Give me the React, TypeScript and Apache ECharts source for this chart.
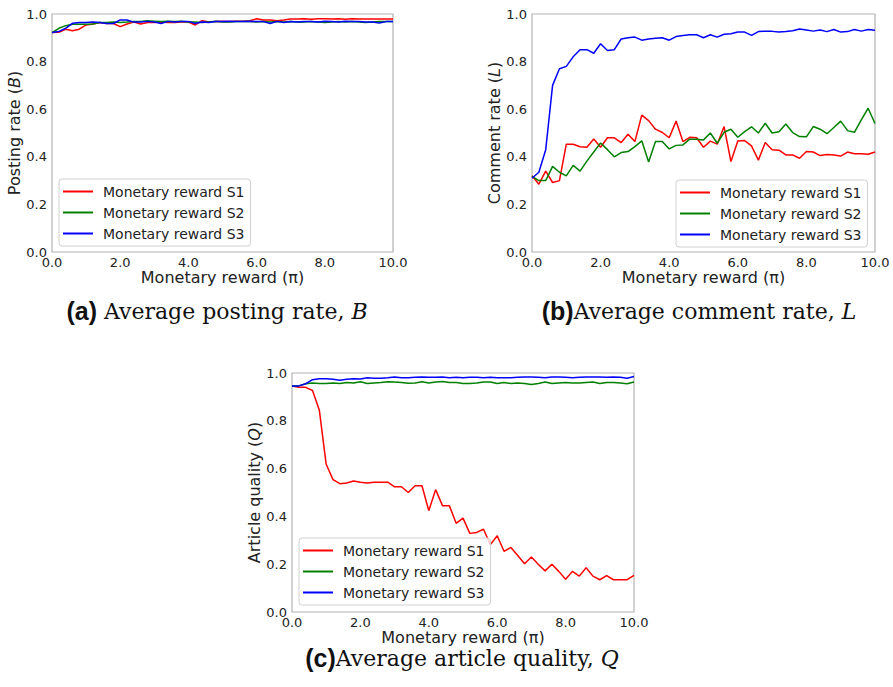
import React, { useEffect, useRef } from "react";
import * as echarts from "echarts";

const xValues = [0.0, 0.2, 0.4, 0.6, 0.8, 1.0, 1.2, 1.4, 1.6, 1.8, 2.0, 2.2, 2.4, 2.6, 2.8, 3.0, 3.2, 3.4, 3.6, 3.8, 4.0, 4.2, 4.4, 4.6, 4.8, 5.0, 5.2, 5.4, 5.6, 5.8, 6.0, 6.2, 6.4, 6.6, 6.8, 7.0, 7.2, 7.4, 7.6, 7.8, 8.0, 8.2, 8.4, 8.6, 8.8, 9.0, 9.2, 9.4, 9.6, 9.8, 10.0];

const seriesNames = ["Monetary reward S1", "Monetary reward S2", "Monetary reward S3"];
const seriesColors = ["#ff0000", "#008000", "#0000ff"];
const yTicks = [0.0, 0.2, 0.4, 0.6, 0.8, 1.0];
const xTicks = [0.0, 2.0, 4.0, 6.0, 8.0, 10.0];

// (a) posting rate B
const postingS1 = [0.922, 0.923, 0.936, 0.93, 0.936, 0.954, 0.958, 0.964, 0.96, 0.96, 0.947, 0.958, 0.966, 0.958, 0.964, 0.964, 0.966, 0.964, 0.964, 0.966, 0.966, 0.954, 0.972, 0.966, 0.969, 0.97, 0.969, 0.97, 0.97, 0.972, 0.98, 0.975, 0.975, 0.972, 0.975, 0.979, 0.979, 0.98, 0.978, 0.98, 0.98, 0.979, 0.98, 0.978, 0.98, 0.979, 0.979, 0.979, 0.979, 0.979, 0.979];
const postingS2 = [0.922, 0.94, 0.951, 0.957, 0.957, 0.957, 0.958, 0.964, 0.964, 0.966, 0.964, 0.966, 0.969, 0.969, 0.972, 0.97, 0.968, 0.97, 0.968, 0.97, 0.966, 0.966, 0.964, 0.966, 0.97, 0.966, 0.966, 0.968, 0.968, 0.968, 0.966, 0.968, 0.966, 0.968, 0.966, 0.968, 0.966, 0.966, 0.968, 0.966, 0.964, 0.966, 0.968, 0.966, 0.968, 0.966, 0.964, 0.966, 0.968, 0.968, 0.969];
const postingS3 = [0.922, 0.926, 0.94, 0.961, 0.964, 0.964, 0.966, 0.964, 0.96, 0.96, 0.975, 0.975, 0.966, 0.966, 0.969, 0.966, 0.96, 0.969, 0.966, 0.969, 0.969, 0.96, 0.966, 0.964, 0.968, 0.968, 0.97, 0.968, 0.968, 0.97, 0.968, 0.968, 0.96, 0.969, 0.964, 0.968, 0.966, 0.968, 0.968, 0.966, 0.97, 0.968, 0.966, 0.97, 0.968, 0.968, 0.966, 0.966, 0.962, 0.968, 0.969];

// (b) comment rate L
const commentS1 = [0.32, 0.285, 0.34, 0.292, 0.3, 0.453, 0.453, 0.442, 0.44, 0.475, 0.44, 0.48, 0.48, 0.46, 0.495, 0.464, 0.575, 0.552, 0.516, 0.502, 0.48, 0.55, 0.464, 0.482, 0.48, 0.44, 0.466, 0.453, 0.527, 0.38, 0.466, 0.468, 0.446, 0.386, 0.46, 0.43, 0.428, 0.408, 0.408, 0.394, 0.422, 0.42, 0.405, 0.41, 0.408, 0.403, 0.42, 0.413, 0.413, 0.411, 0.42];
const commentS2 = [0.318, 0.3, 0.3, 0.36, 0.335, 0.32, 0.364, 0.34, 0.382, 0.42, 0.458, 0.43, 0.4, 0.418, 0.422, 0.443, 0.467, 0.378, 0.464, 0.464, 0.433, 0.448, 0.45, 0.474, 0.474, 0.471, 0.5, 0.457, 0.503, 0.516, 0.482, 0.506, 0.526, 0.5, 0.541, 0.5, 0.505, 0.538, 0.502, 0.485, 0.484, 0.527, 0.516, 0.497, 0.523, 0.55, 0.51, 0.503, 0.555, 0.604, 0.54];
const commentS3 = [0.31, 0.335, 0.43, 0.7, 0.77, 0.78, 0.82, 0.85, 0.85, 0.835, 0.875, 0.847, 0.85, 0.895, 0.9, 0.903, 0.89, 0.895, 0.898, 0.9, 0.89, 0.905, 0.91, 0.913, 0.913, 0.9, 0.913, 0.903, 0.915, 0.917, 0.924, 0.924, 0.91, 0.926, 0.928, 0.927, 0.924, 0.926, 0.93, 0.937, 0.933, 0.928, 0.933, 0.926, 0.935, 0.924, 0.926, 0.935, 0.928, 0.935, 0.932];

// (c) article quality Q
const qualityS1 = [0.946, 0.94, 0.94, 0.927, 0.844, 0.618, 0.554, 0.537, 0.54, 0.548, 0.543, 0.54, 0.543, 0.543, 0.543, 0.524, 0.524, 0.5, 0.528, 0.528, 0.424, 0.512, 0.445, 0.445, 0.371, 0.393, 0.329, 0.333, 0.346, 0.282, 0.319, 0.254, 0.27, 0.236, 0.202, 0.23, 0.2, 0.172, 0.2, 0.17, 0.137, 0.17, 0.15, 0.185, 0.15, 0.135, 0.152, 0.135, 0.135, 0.135, 0.153];
const qualityS2 = [0.946, 0.946, 0.955, 0.958, 0.956, 0.956, 0.958, 0.956, 0.96, 0.958, 0.963, 0.956, 0.958, 0.96, 0.963, 0.962, 0.96, 0.957, 0.958, 0.963, 0.958, 0.962, 0.964, 0.96, 0.96, 0.956, 0.956, 0.958, 0.962, 0.962, 0.956, 0.96, 0.956, 0.958, 0.956, 0.952, 0.956, 0.962, 0.956, 0.958, 0.96, 0.958, 0.958, 0.96, 0.962, 0.956, 0.96, 0.96, 0.958, 0.955, 0.962];
const qualityS3 = [0.946, 0.946, 0.955, 0.972, 0.976, 0.976, 0.974, 0.97, 0.974, 0.976, 0.975, 0.98, 0.978, 0.978, 0.98, 0.983, 0.98, 0.98, 0.982, 0.983, 0.982, 0.982, 0.983, 0.98, 0.982, 0.98, 0.982, 0.982, 0.98, 0.982, 0.98, 0.98, 0.98, 0.982, 0.983, 0.983, 0.982, 0.98, 0.983, 0.983, 0.982, 0.98, 0.982, 0.983, 0.983, 0.983, 0.982, 0.983, 0.982, 0.978, 0.985];

const yNames = [
  ["Posting rate (", "B", ")"],
  ["Comment rate (", "L", ")"],
  ["Article quality (", "Q", ")"],
];
const xName = "Monetary reward (\u03c0)";
const captions = [
  ["(a)", " Average posting rate, ", "B"],
  ["(b)", "Average comment rate, ", "L"],
  ["(c)", "Average article quality, ", "Q"],
];

const TEXT = "#222222";
const SANS = "DejaVu Sans";
const SERIF = "DejaVu Serif";

export default function App() {
  const ref = useRef<HTMLDivElement>(null);

  useEffect(() => {
    document.body.style.margin = "0";
    if (!ref.current) return;
    const chart = echarts.init(ref.current, undefined, { renderer: "svg" });

    const grids = [
      { left: 52, top: 14, width: 341, height: 238 },
      { left: 532, top: 14, width: 343, height: 238 },
      { left: 292, top: 373, width: 342, height: 239 },
    ];
    const legendPos = [
      { left: 59, top: 179 },
      { left: 676, top: 180 },
      { left: 299, top: 538 },
    ];
    const dataSets = [
      [postingS1, postingS2, postingS3],
      [commentS1, commentS2, commentS3],
      [qualityS1, qualityS2, qualityS3],
    ];

    const series: any[] = [];
    dataSets.forEach((set, gi) => {
      set.forEach((vals, si) => {
        series.push({
          type: "line",
          name: seriesNames[si],
          xAxisIndex: gi,
          yAxisIndex: gi,
          data: xValues.map((x, i) => [x, vals[i]]),
          showSymbol: false,
          symbol: "none",
          lineStyle: { color: seriesColors[si], width: 1.5 },
          itemStyle: { color: seriesColors[si] },
          z: 2 + si,
        });
      });
    });

    const richName = {
      n: { fontFamily: SANS, fontSize: 16, color: TEXT },
      i: { fontFamily: SANS, fontSize: 16, fontStyle: "italic", color: TEXT },
    };

    const option: any = {
      animation: false,
      backgroundColor: "#ffffff",
      grid: grids.map((g) => ({
        ...g,
        show: true,
        borderColor: "#b3b3b3",
        borderWidth: 1.2,
        backgroundColor: "transparent",
        containLabel: false,
      })),
      xAxis: grids.map((_, gi) => ({
        type: "value",
        gridIndex: gi,
        min: 0,
        max: 10,
        interval: 2,
        name: xName,
        nameLocation: "middle",
        nameGap: 17,
        nameTextStyle: { fontFamily: SANS, fontSize: 16, color: TEXT },
        axisLine: { show: false },
        axisTick: { show: false },
        splitLine: { show: false },
        axisLabel: {
          margin: 4,
          fontFamily: SANS,
          fontSize: 13,
          color: TEXT,
          formatter: (v: number) => (xTicks.includes(v) ? v.toFixed(1) : ""),
        },
      })),
      yAxis: grids.map((_, gi) => ({
        type: "value",
        gridIndex: gi,
        min: 0,
        max: 1,
        interval: 0.2,
        name: `{n|${yNames[gi][0]}}{i|${yNames[gi][1]}}{n|${yNames[gi][2]}}`,
        nameLocation: "middle",
        nameGap: 27,
        nameRotate: 90,
        nameTextStyle: { rich: richName, fontFamily: SANS, fontSize: 16, color: TEXT },
        axisLine: { show: false },
        axisTick: { show: false },
        splitLine: { show: false },
        axisLabel: {
          margin: 5,
          fontFamily: SANS,
          fontSize: 13,
          color: TEXT,
          formatter: (v: number) => {
            const t = yTicks.find((k) => Math.abs(k - v) < 1e-6);
            return t === undefined ? "" : t.toFixed(1);
          },
        },
      })),
      legend: legendPos.map((p) => ({
        ...p,
        orient: "vertical",
        data: seriesNames.map((n, si) => ({
          name: n,
          icon: "rect",
          itemStyle: { color: seriesColors[si] },
        })),
        itemWidth: 30,
        itemHeight: 2,
        itemGap: 6,
        padding: [5, 6, 5, 4],
        borderColor: "#d0d0d0",
        borderWidth: 1,
        borderRadius: 3,
        backgroundColor: "rgba(255,255,255,0.8)",
        selectedMode: false,
        textStyle: {
          fontFamily: SANS,
          fontSize: 14,
          color: TEXT,
          lineHeight: 15,
          padding: [0, 0, 0, 5],
        },
      })),
      graphic: [
        { x: 217, y: 311 },
        { x: 699, y: 311 },
        { x: 462, y: 658 },
      ].map((pos, ci) => ({
        type: "text",
        x: pos.x,
        y: pos.y,
        style: {
          text: `{b|${captions[ci][0]}}{s|${captions[ci][1]}}{i|${captions[ci][2]}}`,
          align: "center",
          verticalAlign: "middle",
          rich: {
            b: { fontFamily: "Liberation Sans", fontWeight: "bold", fontSize: 25, fill: "#111" },
            s: { fontFamily: SERIF, fontSize: 22, fill: "#111" },
            i: { fontFamily: SERIF, fontStyle: "italic", fontSize: 22, fill: "#111" },
          },
        },
      })),
      series,
    };

    chart.setOption(option);
    return () => chart.dispose();
  }, []);

  return (
    <div
      ref={ref}
      style={{ position: "absolute", left: 0, top: 0, width: 893, height: 687 }}
    />
  );
}
